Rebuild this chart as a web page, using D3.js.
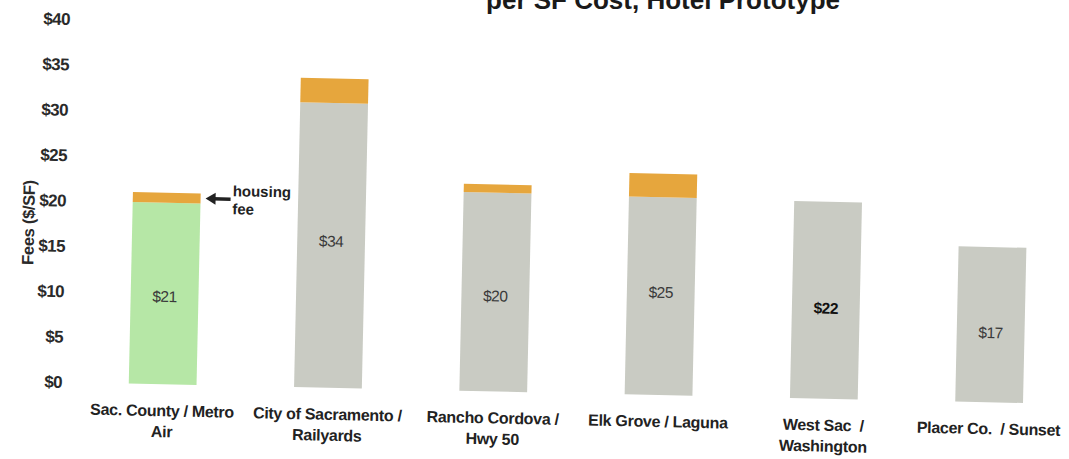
<!DOCTYPE html>
<html><head><meta charset="utf-8">
<script src="https://cdn.jsdelivr.net/npm/d3@7"></script>
<style>
html,body{margin:0;padding:0;background:#fff;}
svg{display:block;font-family:"Liberation Sans",Arial,sans-serif;}
</style></head>
<body>
<svg id="chart" width="1069" height="459"></svg>
<script>
const title = "per SF Cost, Hotel Prototype";
const categories = ["Sac. County / Metro Air", "City of Sacramento / Railyards", "Rancho Cordova / Hwy 50", "Elk Grove / Laguna", "West Sac / Washington", "Placer Co. / Sunset"];
const categoryLines = [["Sac. County / Metro", "Air"], ["City of Sacramento /", "Railyards"], ["Rancho Cordova /", "Hwy 50"], ["Elk Grove / Laguna"], ["West Sac  /", "Washington"], ["Placer Co.  / Sunset"]];
const baseFees = [20.0, 31.4, 21.9, 21.8, 21.7, 17.1];
const housingFees = [1.1, 2.7, 0.9, 2.6, 0, 0];
const totalLabels = ["$21", "$34", "$20", "$25", "$22", "$17"];
const yTicks = [0, 5, 10, 15, 20, 25, 30, 35, 40];

const svg = d3.select("#chart");
const x0 = 61, y0 = 382;
const y = d3.scaleLinear().domain([0, 40]).range([y0, 19]);
const x = d3.scaleBand().domain(categories).range([80, 1072]).paddingInner(0.59).paddingOuter(0.295);

svg.append("text").attr("x", 840).attr("y", 9).attr("text-anchor", "end")
  .attr("font-size", 26).attr("font-weight", "bold").attr("fill", "#1a1a1a").text(title);

const g = svg.append("g").attr("transform", `rotate(1.25, ${x0}, ${y0})`);

// y axis tick labels
const yAxis = d3.axisLeft(y).tickValues(yTicks).tickFormat(d => "$" + d).tickSize(0).tickPadding(0);
const ya = g.append("g").attr("transform", `translate(${x0 + 1},0)`).call(yAxis);
ya.select(".domain").remove();
ya.selectAll("text").attr("font-size", 17).attr("font-weight", "bold").attr("fill", "#2a2a2a")
  .attr("font-family", "Liberation Sans, Arial, sans-serif").attr("letter-spacing", -0.6);

g.append("text").attr("transform", `translate(25,${y(17.5)}) rotate(-90)`).attr("text-anchor", "middle")
  .attr("dy", "0.35em").attr("font-size", 16.5).attr("font-weight", "bold").attr("fill", "#2a2a2a")
  .attr("letter-spacing", -0.3).text("Fees ($/SF)");

// bars
const colors = categories.map((c, i) => i === 0 ? "#b6e7a6" : "#c9cbc3");
g.selectAll("rect.base").data(categories).join("rect").attr("class", "base")
  .attr("x", d => x(d)).attr("width", x.bandwidth())
  .attr("y", (d, i) => y(baseFees[i])).attr("height", (d, i) => y(0) - y(baseFees[i]))
  .attr("fill", (d, i) => colors[i]);
g.selectAll("rect.housing").data(categories).join("rect").attr("class", "housing")
  .attr("x", d => x(d)).attr("width", x.bandwidth())
  .attr("y", (d, i) => y(baseFees[i] + housingFees[i])).attr("height", (d, i) => y(baseFees[i]) - y(baseFees[i] + housingFees[i]))
  .attr("fill", "#e6a63d");

// value labels
g.selectAll("text.val").data(categories).join("text").attr("class", "val")
  .attr("x", d => x(d) + x.bandwidth() / 2)
  .attr("y", (d, i) => y((baseFees[i] + housingFees[i]) / 2) + 8)
  .attr("text-anchor", "middle").attr("dy", "0.35em").attr("font-size", 15.5)
  .attr("font-weight", (d, i) => i === 4 ? "bold" : "normal")
  .attr("fill", (d, i) => i === 4 ? "#111" : "#3a3a3a").attr("letter-spacing", -0.5)
  .text((d, i) => totalLabels[i]);

// category labels
const cl = g.selectAll("text.cat").data(categories).join("text").attr("class", "cat")
  .attr("x", d => x(d) + x.bandwidth() / 2).attr("y", 414)
  .attr("text-anchor", "middle").attr("font-size", 16).attr("font-weight", "bold").attr("fill", "#222")
  .attr("letter-spacing", -0.3);
cl.each(function (d, i) {
  const t = d3.select(this);
  categoryLines[i].forEach((ln, k) => {
    t.append("tspan").attr("x", x(d) + x.bandwidth() / 2).attr("dy", k === 0 ? 0 : 21).attr("xml:space", "preserve").text(ln);
  });
});

// housing fee annotation
const ax = x(categories[0]) + x.bandwidth();
const ay = y(baseFees[0] + housingFees[0] / 2);
g.append("line").attr("x1", ax + 30).attr("x2", ax + 12).attr("y1", ay).attr("y2", ay)
  .attr("stroke", "#222").attr("stroke-width", 3.5);
g.append("path").attr("d", `M${ax + 5},${ay} L${ax + 15},${ay - 6} L${ax + 15},${ay + 6} Z`).attr("fill", "#222");
g.append("text").attr("x", ax + 32).attr("y", ay - 3).attr("font-size", 15).attr("font-weight", "bold").attr("fill", "#222").text("housing");
g.append("text").attr("x", ax + 32).attr("y", ay + 15).attr("font-size", 15).attr("font-weight", "bold").attr("fill", "#222").text("fee");
</script>
</body></html>
